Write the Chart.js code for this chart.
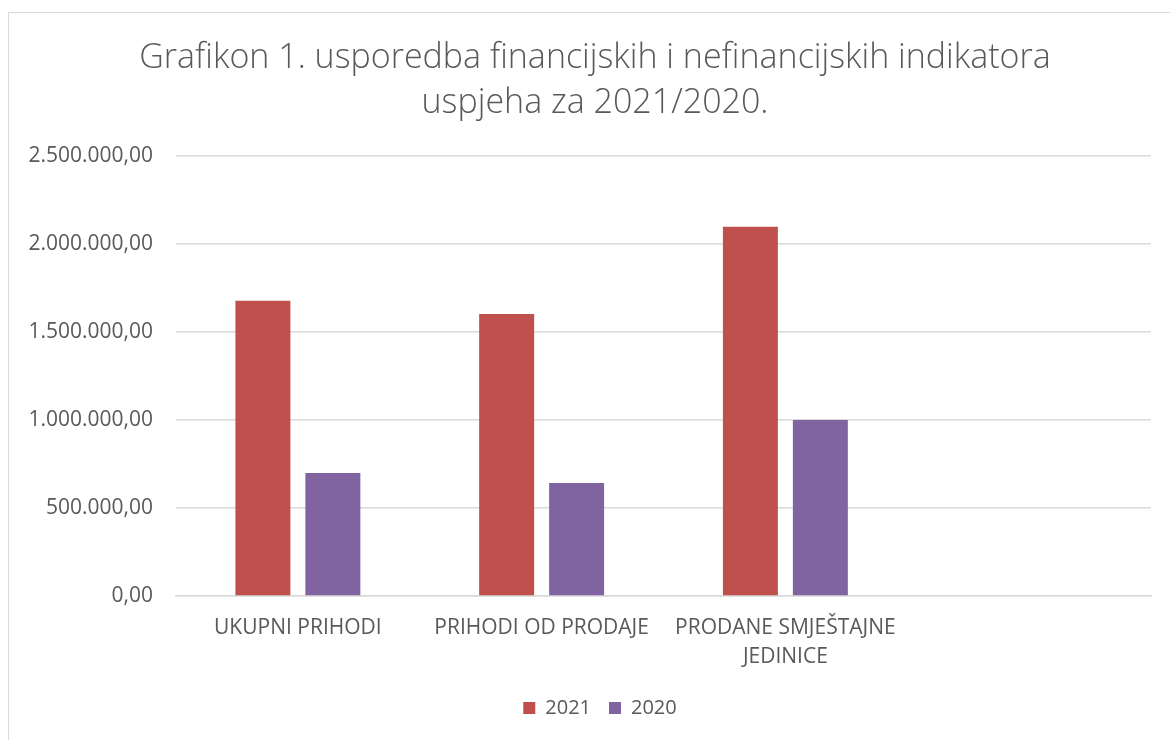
<!DOCTYPE html>
<html>
<head>
<meta charset="utf-8">
<script src="https://cdn.jsdelivr.net/npm/chart.js@4"></script>
<style>
  html, body { margin: 0; padding: 0; background: #fff; overflow: hidden; }
  #wrap { position: relative; width: 1170px; height: 740px; }
  #frame { position: absolute; left: 8px; top: 12px; width: 1200px; height: 800px; border: 1px solid #d9d9d9; box-sizing: border-box; }
  canvas { position: absolute; left: 0; top: 0; }
</style>
</head>
<body>
<div id="wrap">
  <div id="frame"></div>
  <canvas id="chart" width="1170" height="740"></canvas>
</div>
<script>
// ===== Data =====
const categories = [
  'UKUPNI PRIHODI',
  'PRIHODI OD PRODAJE',
  ['PRODANE SMJEŠTAJNE', 'JEDINICE'],
  ''
];
const values2021 = [1677000, 1602000, 2097000, null];
const values2020 = [699000, 642000, 1000000, null];
const tickValues = [0, 500000, 1000000, 1500000, 2000000, 2500000];

const textColor = '#595959';
const gridColor = '#d9d9d9';
const fontFamily = "'Open Sans', sans-serif";

// 2500000 -> "2.500.000,00"
function formatNumber(v) {
  const parts = Math.round(v).toString().replace(/\B(?=(\d{3})+(?!\d))/g, '.');
  return parts + ',00';
}

// title and legend in the original sit a bit right of the layout box centre
const shiftBlocks = {
  id: 'shiftBlocks',
  afterLayout(chart) {
    chart.titleBlock.left += 9.5;
    chart.titleBlock.right += 9.5;
    chart.legend.left += 14.5;
    chart.legend.right += 14.5;
  }
};

new Chart(document.getElementById('chart'), {
  type: 'bar',
  data: {
    labels: categories,
    datasets: [
      { label: '2021', data: values2021, backgroundColor: '#c0504d', categoryPercentage: 0.574, barPercentage: 0.786 },
      { label: '2020', data: values2020, backgroundColor: '#8064a2', categoryPercentage: 0.574, barPercentage: 0.786 }
    ]
  },
  options: {
    responsive: false,
    animation: false,
    layout: { padding: { left: 20, right: 19, top: 12, bottom: 12 } },
    plugins: {
      title: {
        display: true,
        text: ['Grafikon 1. usporedba financijskih i nefinancijskih indikatora', 'uspjeha za 2021/2020.'],
        color: textColor,
        font: { family: fontFamily, size: 34, weight: '300', lineHeight: 1.32 },
        padding: { top: 24, bottom: 30 }
      },
      legend: {
        position: 'bottom',
        labels: {
          color: textColor,
          font: { family: fontFamily, size: 20 },
          boxWidth: 12,
          boxHeight: 12,
          padding: 18
        }
      },
      tooltip: { enabled: false }
    },
    scales: {
      x: {
        grid: { display: false },
        border: { color: gridColor, width: 1.5 },
        ticks: { color: textColor, font: { family: fontFamily, size: 21, lineHeight: 1.35 }, maxRotation: 0, autoSkip: false, padding: 10 },
        afterFit: s => { s.height = 84; }
      },
      y: {
        min: 0,
        max: 2500000,
        afterBuildTicks: s => { s.ticks = tickValues.map(v => ({ value: v })); },
        grid: { color: gridColor, lineWidth: 1.5, drawTicks: false },
        border: { display: false },
        ticks: { color: textColor, font: { family: fontFamily, size: 21 }, padding: 23, callback: v => formatNumber(v) },
        afterFit: s => { s.width = 156; }
      }
    }
  },
  plugins: [shiftBlocks]
});
</script>
</body>
</html>
